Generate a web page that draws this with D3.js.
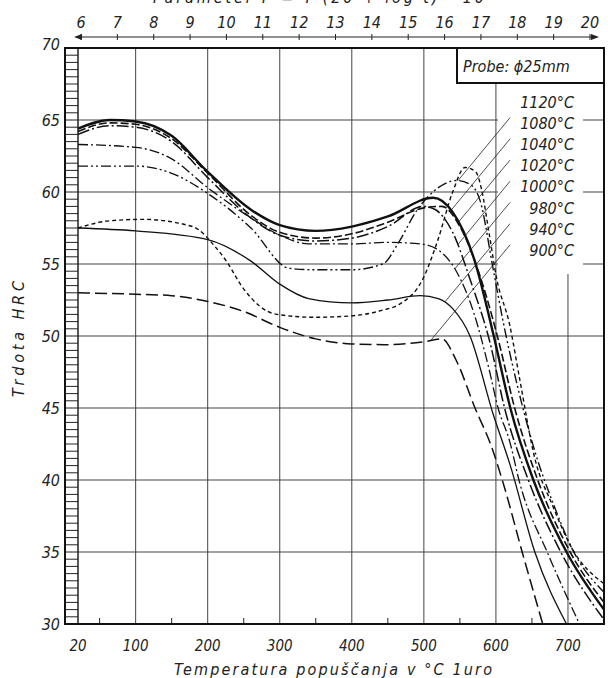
<!DOCTYPE html>
<html>
<head>
<meta charset="utf-8">
<script src="https://cdn.jsdelivr.net/npm/d3@7"></script>
<style>
  body { margin: 0; background: #fff; }
  text { font-family: "DejaVu Sans Condensed", "DejaVu Sans", sans-serif; font-style: italic; fill: #222; }
</style>
</head>
<body>
<div id="chart"></div>
<script>
// hardening temperatures (curve labels, top to bottom)
var hardLabels = ["1120°C", "1080°C", "1040°C", "1020°C", "1000°C", "980°C", "940°C", "900°C"];

// tempering temperature (°C) / hardness HRC for every hardening temperature
var t1120 = [20, 64, 110, 179, 212, 226, 248, 296, 350, 400, 443, 466, 499, 519, 540, 557, 572, 580, 590, 601, 619, 633, 654, 678, 705, 750];
var h1120 = [57.5, 58, 58.1, 57.6, 56.1, 55.2, 53.4, 51.5, 51.3, 51.4, 51.8, 52.2, 54, 56.6, 60, 61.7, 61.4, 60.2, 57.3, 54, 50.8, 47, 41.5, 38.3, 35.3, 32.8];
var t1080 = [20, 100, 150, 200, 260, 313, 350, 400, 443, 465, 490, 520, 545, 565, 578, 596, 610, 630, 654, 680, 706, 750];
var h1080 = [61.8, 61.8, 61.3, 59.9, 57.5, 54.7, 54.6, 54.6, 55, 56.5, 58.7, 60.3, 60.8, 60.5, 59.4, 54.7, 51, 46.5, 42, 38.3, 35.2, 32.2];
var t1040 = [20, 64, 100, 150, 200, 262, 300, 350, 400, 450, 500, 525, 550, 575, 603, 626, 658, 703, 750];
var h1040 = [64.2, 64.8, 64.7, 63.7, 61.3, 58.3, 57.2, 56.8, 57.1, 57.9, 58.9, 59, 57.6, 54.6, 49.8, 45, 40, 35, 31.5];
var t1020 = [20, 64, 100, 150, 198, 262, 300, 350, 400, 450, 513, 540, 570, 597, 620, 652, 698, 750];
var h1020 = [64.4, 65, 64.9, 63.9, 61.5, 58.7, 57.7, 57.3, 57.6, 58.3, 59.6, 58.6, 55.3, 50, 45, 40, 35, 31];
var t1000 = [20, 64, 100, 150, 200, 260, 300, 350, 400, 450, 499, 515, 540, 565, 592, 612, 645, 690, 750];
var h1000 = [64, 64.6, 64.5, 63.5, 61, 58.2, 57, 56.6, 56.8, 57.6, 59, 58.8, 57.2, 53.8, 49.5, 45, 40, 35, 30.3];
var t980 = [20, 100, 150, 200, 260, 300, 340, 400, 450, 495, 522, 545, 570, 590, 603, 619, 633, 672, 716];
var h980 = [63.3, 63.1, 62.3, 60.3, 58.2, 57, 56.4, 56.4, 56.5, 56.4, 55.9, 54.5, 51.5, 47.8, 45, 42.7, 39.8, 34.9, 30];
var t940 = [20, 100, 200, 260, 300, 340, 400, 450, 495, 520, 540, 564, 596, 620, 654, 698];
var h940 = [57.5, 57.3, 56.7, 55.2, 53.6, 52.6, 52.3, 52.5, 52.8, 52.6, 51.9, 50, 44.6, 41, 35, 30];
var t900 = [20, 100, 150, 200, 250, 300, 350, 400, 450, 500, 525, 545, 571, 594, 610, 637, 665];
var h900 = [53, 52.9, 52.8, 52.4, 51.7, 50.6, 49.8, 49.45, 49.4, 49.6, 49.8, 48.3, 45, 42.3, 39.8, 34.9, 30];

// axes
var xTicks = [20, 100, 200, 300, 400, 500, 600, 700];
var yTicks = [30, 35, 40, 45, 50, 55, 60, 65, 70];
var paramTicks = [6, 7, 8, 9, 10, 11, 12, 13, 14, 15, 16, 17, 18, 19, 20];

var curves = [
  { t: t1120, h: h1120, dash: "4,3", w: 1.4 },
  { t: t1080, h: h1080, dash: "10,3,2,3,2,3", w: 1.4 },
  { t: t1040, h: h1040, dash: "8,3", w: 1.6 },
  { t: t1020, h: h1020, dash: null, w: 2.4 },
  { t: t1000, h: h1000, dash: "12,3,2,3", w: 1.5 },
  { t: t980, h: h980, dash: "10,3,2,3", w: 1.3 },
  { t: t940, h: h940, dash: null, w: 1.3 },
  { t: t900, h: h900, dash: "12,5", w: 1.5 }
];

const W = 608, H = 678;
const pLeft = 78, pRight = 604, pTop = 48, pBottom = 624;

const svg = d3.select("#chart").append("svg")
  .attr("width", W).attr("height", H);

const x = d3.scaleLinear().domain([20, 750]).range([pLeft, pRight]);
const y = d3.scaleLinear().domain([30, 70]).range([pBottom, pTop]);
const p = d3.scaleLinear().domain([6, 20]).range([81, 590]);

// grid
svg.append("g").selectAll("line").data(xTicks.slice(1)).enter().append("line")
  .attr("x1", d => x(d)).attr("x2", d => x(d))
  .attr("y1", pTop).attr("y2", pBottom)
  .attr("stroke", "#444").attr("stroke-width", 1);
svg.append("g").selectAll("line").data(yTicks.slice(1, -1)).enter().append("line")
  .attr("x1", pLeft).attr("x2", pRight)
  .attr("y1", d => y(d)).attr("y2", d => y(d))
  .attr("stroke", "#444").attr("stroke-width", 1);

// blank area behind the curve labels
svg.append("rect").attr("x", 498).attr("y", 84).attr("width", 85).attr("height", 190).attr("fill", "#fff");

// ladder on the left axis
const rungs = d3.range(30.5, 70, 0.5);
svg.append("g").selectAll("line").data(rungs).enter().append("line")
  .attr("x1", 65).attr("x2", pLeft)
  .attr("y1", d => y(d)).attr("y2", d => y(d))
  .attr("stroke", "#222").attr("stroke-width", 1);
svg.append("line").attr("x1", pLeft).attr("x2", pLeft).attr("y1", pTop).attr("y2", pBottom)
  .attr("stroke", "#222").attr("stroke-width", 1.5);

// small ticks on bottom axis
svg.append("g").selectAll("line").data(d3.range(50, 700, 100)).enter().append("line")
  .attr("x1", d => x(d)).attr("x2", d => x(d))
  .attr("y1", pBottom).attr("y2", pBottom - 6)
  .attr("stroke", "#222").attr("stroke-width", 1);

// frame
svg.append("rect").attr("x", 65).attr("y", pTop).attr("width", pRight - 65).attr("height", pBottom - pTop)
  .attr("fill", "none").attr("stroke", "#111").attr("stroke-width", 2);

// legend box
svg.append("rect").attr("x", 457).attr("y", pTop).attr("width", pRight - 457).attr("height", 35)
  .attr("fill", "#fff").attr("stroke", "#111").attr("stroke-width", 2);
svg.append("text").attr("x", 463).attr("y", 72).attr("font-size", 16).text("Probe: ϕ25mm");

// curves
const line = d3.line().x(d => x(d[0])).y(d => y(d[1])).curve(d3.curveMonotoneX);
const paths = curves.map(c => svg.append("path")
  .datum(c.t.map((t, i) => [t, c.h[i]]))
  .attr("d", line)
  .attr("fill", "none").attr("stroke", "#111")
  .attr("stroke-width", c.w)
  .attr("stroke-dasharray", c.dash));

// curve labels
const labY = i => 101.5 + i * 21.2;
svg.append("g").selectAll("text").data(hardLabels).enter().append("text")
  .attr("x", 574).attr("y", (d, i) => labY(i) + 6)
  .attr("text-anchor", "end").attr("font-size", 16)
  .text(d => d);

// leader lines from labels to their curves
const x0 = 510, k = 1.2;
hardLabels.forEach((lab, i) => {
  if (i === 0) return;
  const y0 = labY(i) - 5;
  const node = paths[i].node();
  const len = node.getTotalLength();
  let prev = null, best = null;
  for (let l = 0; l <= len; l += 0.5) {
    const pt = node.getPointAtLength(l);
    const g = pt.y - (y0 + k * (x0 - pt.x));
    if (prev && pt.x < x0 && (g > 0) !== (prev.g > 0)) {
      if (!best || pt.x > best.x) best = { x: pt.x, y: pt.y };
    }
    prev = { g: g };
  }
  if (best) {
    svg.append("line").attr("x1", x0).attr("y1", y0).attr("x2", best.x).attr("y2", best.y)
      .attr("stroke", "#222").attr("stroke-width", 0.8);
  }
});

// bottom labels
svg.append("g").selectAll("text").data(xTicks).enter().append("text")
  .attr("x", d => x(d)).attr("y", 651)
  .attr("text-anchor", "middle").attr("font-size", 15)
  .text(d => d);
svg.append("text").attr("x", 333).attr("y", 675).attr("text-anchor", "middle")
  .attr("font-size", 16).attr("textLength", 318).attr("lengthAdjust", "spacing")
  .text("Temperatura  popuščanja v °C  1uro");

// left labels
svg.append("g").selectAll("text").data(yTicks).enter().append("text")
  .attr("x", 60).attr("y", d => y(d) + (d === 70 ? 2 : 6))
  .attr("text-anchor", "end").attr("font-size", 16)
  .text(d => d);
svg.append("text").attr("transform", "translate(24,339) rotate(-90)")
  .attr("text-anchor", "middle").attr("font-size", 16)
  .attr("textLength", 116).attr("lengthAdjust", "spacing")
  .text("Trdota  HRC");

// top parameter axis
const topY = 37;
svg.append("line").attr("x1", 76).attr("x2", 597).attr("y1", topY).attr("y2", topY)
  .attr("stroke", "#222").attr("stroke-width", 1);
svg.append("path").attr("d", `M74,${topY} L82,${topY - 3} L82,${topY + 3} Z`).attr("fill", "#222");
svg.append("path").attr("d", `M599,${topY} L591,${topY - 3} L591,${topY + 3} Z`).attr("fill", "#222");
svg.append("g").selectAll("line").data(paramTicks).enter().append("line")
  .attr("x1", d => p(d)).attr("x2", d => p(d))
  .attr("y1", topY - 3).attr("y2", topY + 3)
  .attr("stroke", "#222").attr("stroke-width", 1);
svg.append("g").selectAll("text").data(paramTicks).enter().append("text")
  .attr("x", d => p(d)).attr("y", 28)
  .attr("text-anchor", "middle").attr("font-size", 16)
  .text(d => d);
svg.append("text").attr("x", 328).attr("y", 3).attr("text-anchor", "middle")
  .attr("font-size", 16).attr("textLength", 350).attr("lengthAdjust", "spacing")
  .text("Parameter P = T (20 + log t) · 10⁻³");
</script>
</body>
</html>
